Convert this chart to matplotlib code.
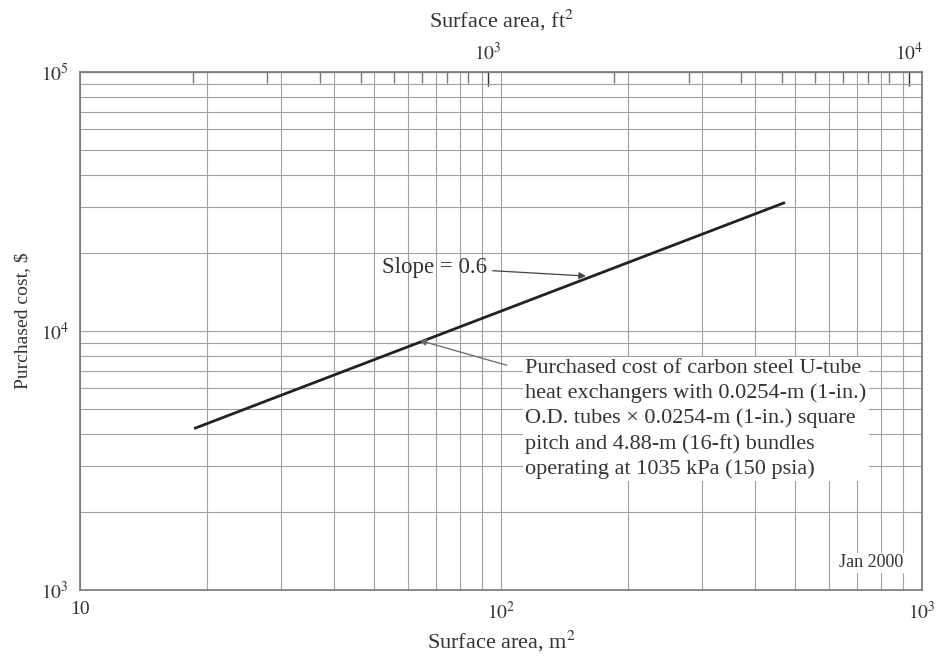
import numpy as np
import matplotlib.pyplot as plt
from matplotlib.ticker import LogLocator, FixedLocator, NullFormatter

plt.rcParams['font.family'] = ['Liberation Serif', 'DejaVu Serif']
plt.rcParams['mathtext.fontset'] = 'stix'

# data (m^2, $)
area_m2 = [18.8, 469]
cost = [4220, 31200]
M2_TO_FT2 = 10.764

note = ("Purchased cost of carbon steel U-tube\n"
        "heat exchangers with 0.0254-m (1-in.)\n"
        "O.D. tubes \u00d7 0.0254-m (1-in.) square\n"
        "pitch and 4.88-m (16-ft) bundles\n"
        "operating at 1035 kPa (150 psia)")

tc = '#333333'
gc = '#a0a0a0'

fig = plt.figure(figsize=(9.41, 6.6), dpi=100)
ax = fig.add_axes([0.085, 0.106, 0.895, 0.785])
ax.set_xscale('log')
ax.set_yscale('log')
ax.set_xlim(10, 1000)
ax.set_ylim(1e3, 1e5)

ax.xaxis.set_major_locator(FixedLocator([10, 100, 1000]))
ax.set_xticklabels(['10', '$10^2$', '$10^3$'])
ax.yaxis.set_major_locator(FixedLocator([1e3, 1e4, 1e5]))
ax.set_yticklabels(['$10^3$', '$10^4$', '$10^5$'])
ax.xaxis.set_minor_locator(LogLocator(subs=np.arange(2, 10)))
ax.yaxis.set_minor_locator(LogLocator(subs=np.arange(2, 10)))
ax.xaxis.set_minor_formatter(NullFormatter())
ax.yaxis.set_minor_formatter(NullFormatter())
ax.tick_params(which='both', length=0, labelsize=14, colors=tc, pad=8)
ax.grid(True, which='both', color=gc, lw=0.8)
for s in ax.spines.values():
    s.set_color('#777777')
    s.set_linewidth(1.2)

ax.plot(area_m2, cost, color='#222222', lw=2.0)

ax.set_xlabel('Surface area, m$^2$', fontsize=16, color=tc, labelpad=4)
ax.set_ylabel('Purchased cost, $', fontsize=14, color=tc)
ax.yaxis.set_label_coords(-0.058, 0.52)

top = ax.secondary_xaxis('top', functions=(lambda x: x * M2_TO_FT2, lambda x: x / M2_TO_FT2))
top.xaxis.set_major_locator(FixedLocator([1e3, 1e4]))
top.set_xticklabels(['$10^3$', '$10^4$'])
top.xaxis.set_minor_locator(LogLocator(subs=np.arange(2, 10)))
top.xaxis.set_minor_formatter(NullFormatter())
top.tick_params(which='major', direction='in', length=10, width=1, colors=tc, labelsize=14, pad=6)
top.tick_params(which='minor', direction='in', length=8, width=1, colors='#777777')
top.set_xlabel('Surface area, ft$^2$', fontsize=16, color=tc, labelpad=10)

ax.annotate('Slope = 0.6', xy=(159, 16300), xytext=(69.5, 17600), fontsize=16.5, color=tc,
            ha='center', va='center',
            arrowprops=dict(arrowstyle='-|>', color='#444444', lw=0.9, mutation_scale=10,
                            shrinkA=2, shrinkB=0))
ax.annotate(note, xy=(64, 9200), xytext=(114, 4570), fontsize=16, color=tc,
            ha='left', va='center', linespacing=1.37,
            bbox=dict(boxstyle='square,pad=0.1', fc='white', ec='none'),
            arrowprops=dict(arrowstyle='-|>', color='#666666', lw=0.9, mutation_scale=10,
                            shrinkA=12, shrinkB=0))
ax.text(900, 1180, 'Jan 2000', fontsize=13, color=tc, ha='right', va='bottom',
        bbox=dict(boxstyle='square,pad=0.1', fc='white', ec='none'))

fig.savefig('out.png', dpi=100)
